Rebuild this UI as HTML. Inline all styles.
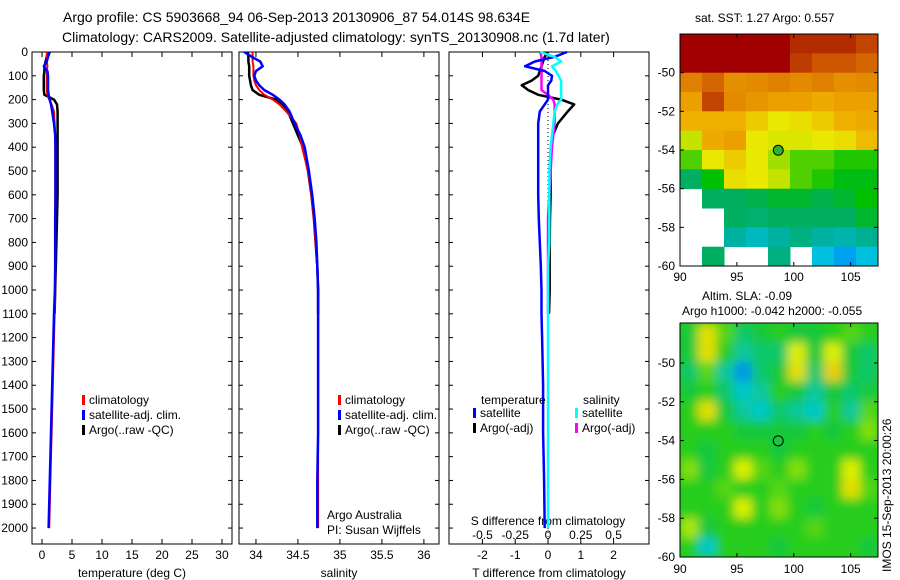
<!DOCTYPE html>
<html><head><meta charset="utf-8"><style>
body{margin:0;background:#fff;}
svg{display:block;font-family:"Liberation Sans",Arial,sans-serif;}
text{fill:#000;}
</style></head><body>
<svg id="fig" width="900" height="580" xmlns="http://www.w3.org/2000/svg">
<defs><filter id="blur" x="0" y="0" width="1" height="1"><feGaussianBlur stdDeviation="5"/></filter>
<clipPath id="slaclip"><rect x="680" y="323" width="198" height="234"/></clipPath></defs>
<text x="63" y="22" font-size="14">Argo profile: CS 5903668_94 06-Sep-2013 20130906_87 54.014S 98.634E</text>
<text x="62" y="42" font-size="14">Climatology: CARS2009. Satellite-adjusted climatology: synTS_20130908.nc (1.7d later)</text>
<text x="695" y="22" font-size="12">sat. SST: 1.27 Argo: 0.557</text>
<text x="702" y="300" font-size="12">Altim. SLA: -0.09</text>
<text x="682" y="315" font-size="12">Argo h1000: -0.042 h2000: -0.055</text>
<text transform="translate(891,572) rotate(-90)" font-size="12">IMOS 15-Sep-2013 20:00:26</text>
<g id="g"></g>
</svg>
<script>
// ---- data ----
const depths=[0,20,40,60,80,100,120,140,160,180,200,220,250,300,350,400,500,600,700,800,900,1000,1100,1200,1400,1600,1800,2000];
const tempClim=[0.8,0.8,0.8,0.9,0.8,0.8,0.8,0.8,0.8,0.9,1.2,1.6,2.0,2.1,2.2,2.2,2.2,2.2,2.2,2.2,2.2,2.2,2.1,2.0,1.8,1.6,1.4,1.2];
const tempSat=[1.3,1.0,0.8,0.3,0.9,1.0,1.0,1.0,1.0,1.1,1.3,1.5,1.7,2.0,2.2,2.25,2.25,2.25,2.2,2.2,2.2,2.15,2.0,1.9,1.7,1.5,1.3,1.1];
const tempArgo=[1.0,0.8,0.6,0.4,0.4,0.3,0.3,0.3,0.3,0.4,2.0,2.5,2.6,2.6,2.6,2.6,2.6,2.6,2.5,2.4,2.3,2.2,2.1];
const salClim=[33.96,33.96,33.96,33.97,33.97,33.97,33.98,34.0,34.04,34.1,34.2,34.28,34.36,34.48,34.52,34.55,34.62,34.66,34.69,34.71,34.73,34.74,34.74,34.74,34.74,34.74,34.74,34.74];
const salSat=[33.86,33.95,34.05,34.08,34.0,33.98,34.0,34.04,34.1,34.2,34.28,34.34,34.4,34.46,34.53,34.58,34.63,34.67,34.7,34.72,34.73,34.74,34.74,34.74,34.74,34.74,34.73,34.73];
const salArgo=[33.9,33.91,33.91,33.92,33.92,33.92,33.93,33.94,33.96,34.04,34.24,34.32,34.38,34.44,34.5,34.56,34.62,34.66,34.69,34.71,34.73,34.74,34.74];
const tDiffSat=[0.58,0.2,-0.4,-0.7,-0.1,0.12,0.1,0.0,0.0,0.0,0.0,-0.1,-0.25,-0.3,-0.3,-0.3,-0.3,-0.3,-0.28,-0.25,-0.22,-0.2,-0.2,-0.18,-0.15,-0.15,-0.12,-0.1];
const tDiffArgo=[0.0,-0.1,-0.15,-0.2,-0.25,-0.3,-0.5,-0.8,-0.6,-0.3,0.4,0.8,0.6,0.3,0.15,0.1,0.08,0.08,0.06,0.05,0.05,0.05,0.03];
const sDiffSat=[-0.06,0.05,0.1,0.03,0.06,0.08,0.1,0.1,0.1,0.1,0.1,0.07,0.05,0.04,0.03,0.02,0.01,0.01,0.01,0.01,0.0,0.0,0.0,0.0,0.0,0.0,0.0,0.0];
const sDiffArgo=[-0.06,-0.05,-0.05,-0.05,-0.05,-0.05,-0.05,-0.05,-0.05,0.0,0.04,0.05,0.05,0.05,0.04,0.03,0.02,0.01,0.0,0.0,0.0,0.0,0.0];
const depthTicks=[0,100,200,300,400,500,600,700,800,900,1000,1100,1200,1300,1400,1500,1600,1700,1800,1900,2000];
const tempTicks=[0,5,10,15,20,25,30];
const salTicks=[34,34.5,35,35.5,36];
const tDiffTicks=[-2,-1,0,1,2];
const sDiffTicks=[-0.5,-0.25,0,0.25,0.5];
const sstGrid=[
[1,1,1,1,1,0.95,0.95,0.95,0.92],
[1,1,1,1,1,0.93,0.9,0.9,0.88],
[0.85,0.88,0.8,0.82,0.85,0.82,0.85,0.8,0.82],
[0.75,0.92,0.82,0.78,0.75,0.75,0.72,0.75,0.75],
[0.7,0.7,0.7,0.65,0.6,0.62,0.65,0.7,0.72],
[0.55,0.72,0.75,0.6,0.58,0.58,0.6,0.62,0.68],
[0.45,0.6,0.65,0.6,0.5,0.45,0.45,0.42,0.42],
[0.3,0.4,0.62,0.6,0.55,0.45,0.42,0.38,0.38],
[null,0.3,0.3,0.32,0.35,0.35,0.32,0.35,0.4],
[null,null,0.3,0.28,0.3,0.3,0.3,0.3,0.35],
[null,null,0.2,0.15,0.2,0.25,0.2,0.18,0.22],
[null,0.3,null,null,0.25,null,0.1,0.05,0.1]];
const slaGrid=[
[0.45,0.75,0.55,0.4,0.45,0.5,0.45,0.45,0.5,0.55,0.5],
[0.45,0.75,0.5,0.35,0.4,0.4,0.7,0.45,0.7,0.45,0.4],
[0.4,0.55,0.35,0.15,0.4,0.45,0.75,0.4,0.8,0.45,0.4],
[0.45,0.5,0.4,0.3,0.35,0.5,0.45,0.35,0.45,0.4,0.45],
[0.5,0.75,0.45,0.35,0.3,0.4,0.35,0.3,0.5,0.35,0.55],
[0.5,0.5,0.5,0.45,0.45,0.45,0.45,0.5,0.45,0.5,0.6],
[0.5,0.45,0.5,0.5,0.5,0.45,0.5,0.5,0.5,0.5,0.5],
[0.6,0.45,0.5,0.7,0.55,0.5,0.6,0.5,0.5,0.7,0.5],
[0.5,0.5,0.55,0.5,0.5,0.55,0.5,0.5,0.5,0.75,0.55],
[0.5,0.5,0.5,0.7,0.5,0.6,0.5,0.45,0.5,0.5,0.5],
[0.65,0.45,0.5,0.5,0.5,0.5,0.5,0.55,0.5,0.5,0.5],
[0.5,0.3,0.5,0.5,0.5,0.45,0.5,0.5,0.5,0.5,0.45]];
// ---- helpers ----
const NS="http://www.w3.org/2000/svg";const G=document.getElementById('g');
function mk(tag,attrs,txt,parent){const e=document.createElementNS(NS,tag);for(const k in attrs)e.setAttribute(k,attrs[k]);if(txt!==undefined&&txt!==null)e.textContent=txt;(parent||G).appendChild(e);return e;}
const TOP=52,BOT=544,DMAX=2067;
const yD=d=>TOP+d/DMAX*(BOT-TOP);
function panel(x0,x1,v0,v1){return {x0,x1,xs:v=>x0+(v-v0)/(v1-v0)*(x1-x0)};}
const P1=panel(32,232,-1.67,31.67),P2=panel(239,439,33.798,36.18),P3=panel(449,649,-3.02,3.08);
const sx3=v=>P3.xs(v*4);
function box(P,nm){const r=mk('rect',{x:P.x0,y:TOP,width:P.x1-P.x0,height:BOT-TOP,fill:'none',stroke:'#000','stroke-width':1});

depthTicks.forEach(d=>{const y=yD(d);mk('line',{x1:P.x0,x2:P.x0+4,y1:y,y2:y,stroke:'#000'});mk('line',{x1:P.x1,x2:P.x1-4,y1:y,y2:y,stroke:'#000'});});}
function xt(P,ticks,fn,lbl,nm){ticks.forEach(t=>{const x=fn(t);mk('line',{x1:x,x2:x,y1:TOP,y2:TOP+5,stroke:'#000'});mk('line',{x1:x,x2:x,y1:BOT,y2:BOT-5,stroke:'#000'});
const e=mk('text',{x:x,y:BOT+15,'font-size':12,'text-anchor':'middle'},String(t));});
const l=mk('text',{x:(P.x0+P.x1)/2,y:BOT+33,'font-size':12,'text-anchor':'middle'},lbl);}
function line(P,fn,vals,col,w,nm){const pts=vals.map((v,i)=>fn(v).toFixed(1)+','+yD(depths[i]).toFixed(1)).join(' ');
const e=mk('polyline',{points:pts,fill:'none',stroke:col,'stroke-width':w,'stroke-linejoin':'round'});}
function leg(x,y,col,txt,nm){mk('rect',{x:x,y:y-9,width:3,height:10,fill:col});const e=mk('text',{x:x+7,y:y,'font-size':12},txt);}
// ---- panel 1 ----
box(P1,'temperature-panel');
depthTicks.forEach(d=>{const e=mk('text',{x:28,y:yD(d)+4,'font-size':12,'text-anchor':'end'},String(d));});
xt(P1,tempTicks,P1.xs,'temperature (deg C)','temperature');
line(P1,P1.xs,tempArgo,'#000',2.5,'temp-argo-line');
line(P1,P1.xs,tempClim,'#f00',2,'temp-climatology-line');
line(P1,P1.xs,tempSat,'#00f',2.5,'temp-satellite-line');
leg(82,404,'#f00','climatology','legend-climatology');leg(82,419,'#00f','satellite-adj. clim.','legend-satellite-adj');leg(82,434,'#000','Argo(..raw -QC)','legend-argo');
// ---- panel 2 ----
box(P2,'salinity-panel');
xt(P2,salTicks,P2.xs,'salinity','salinity');
line(P2,P2.xs,salArgo,'#000',2.5,'sal-argo-line');
line(P2,P2.xs,salClim,'#f00',2,'sal-climatology-line');
line(P2,P2.xs,salSat,'#00f',2.5,'sal-satellite-line');
leg(338,404,'#f00','climatology','legend2-climatology');leg(338,419,'#00f','satellite-adj. clim.','legend2-satellite-adj');leg(338,434,'#000','Argo(..raw -QC)','legend2-argo');
mk('text',{x:327,y:519,'font-size':12},'Argo Australia');mk('text',{x:327,y:534,'font-size':12},'PI: Susan Wijffels');
// ---- panel 3 ----
box(P3,'difference-panel');
xt(P3,tDiffTicks,P3.xs,'T difference from climatology','t-diff');
mk('line',{x1:P3.xs(0),x2:P3.xs(0),y1:TOP,y2:BOT,stroke:'#000','stroke-dasharray':'1,3'});
sDiffTicks.forEach(t=>{const e=mk('text',{x:sx3(t),y:539,'font-size':12,'text-anchor':'middle'},String(t));});
mk('text',{x:548,y:525,'font-size':12,'text-anchor':'middle'},'S difference from climatology');
line(P3,P3.xs,tDiffArgo,'#000',2.5,'t-diff-argo-line');
line(P3,sx3,sDiffArgo,'#f0f',2.5,'s-diff-argo-line');
line(P3,P3.xs,tDiffSat,'#00f',2.5,'t-diff-satellite-line');
line(P3,sx3,sDiffSat,'#0ff',2.5,'s-diff-satellite-line');
mk('text',{x:481,y:404,'font-size':12},'temperature');mk('text',{x:583,y:404,'font-size':12},'salinity');
leg(473,417,'#00f','satellite','legend3-t-satellite');leg(473,432,'#000','Argo(-adj)','legend3-t-argo');
leg(575,417,'#0ff','satellite','legend3-s-satellite');leg(575,432,'#f0f','Argo(-adj)','legend3-s-argo');
// ---- maps ----
function ramp(st,v){for(let i=1;i<st.length;i++)if(v<=st[i][0]){const a=st[i-1],b=st[i],f=(v-a[0])/(b[0]-a[0]);return 'rgb('+a[1].map((c,k)=>Math.round(c+(b[1][k]-c)*f)).join(',')+')';}const l=st[st.length-1][1];return 'rgb('+l.join(',')+')';}
const sstStops=[[0,[0,128,255]],[0.1,[0,192,224]],[0.2,[0,176,160]],[0.3,[0,176,96]],[0.4,[0,192,0]],[0.5,[160,224,0]],[0.6,[232,232,0]],[0.7,[240,176,0]],[0.85,[224,128,0]],[1,[160,0,0]]];
const slaStops=[[0,[0,96,224]],[0.15,[0,150,230]],[0.3,[0,200,200]],[0.45,[20,200,60]],[0.5,[40,205,30]],[0.7,[220,240,0]],[0.85,[240,190,0]],[1,[240,140,0]]];
function map(grid,stops,x0,y0,x1,y1,latTop,nm,smooth){const R=grid.length,C=grid[0].length,cw=(x1-x0)/C,ch=(y1-y0)/R;
mk('rect',{x:x0,y:y0,width:x1-x0,height:y1-y0,fill:smooth?ramp(stops,0.5):'#fff'});
let grp=G;if(smooth){grp=mk('g',{'clip-path':'url(#slaclip)'});grp=mk('g',{filter:'url(#blur)'},null,grp);}
grid.forEach((row,r)=>row.forEach((v,c)=>{if(v===null)return;const e=mk('rect',{x:(x0+c*cw).toFixed(1),y:(y0+r*ch).toFixed(1),width:(cw+0.5).toFixed(1),height:(ch+0.5).toFixed(1),fill:ramp(stops,v)},null,grp);

}));
const b=mk('rect',{x:x0,y:y0,width:x1-x0,height:y1-y0,fill:'none',stroke:'#000'});
const ly=l=>y0+(latTop-l)/(latTop+60)*(y1-y0),lx=l=>x0+(l-90)/17.4*(x1-x0);
[-50,-52,-54,-56,-58,-60].forEach(l=>{const y=ly(l);mk('line',{x1:x0,x2:x0+4,y1:y,y2:y,stroke:'#000'});mk('line',{x1:x1,x2:x1-4,y1:y,y2:y,stroke:'#000'});mk('text',{x:x0-5,y:y+4,'font-size':12,'text-anchor':'end'},String(l));});
[90,95,100,105].forEach(l=>{const x=lx(l);mk('line',{x1:x,x2:x,y1:y1,y2:y1-4,stroke:'#000'});mk('line',{x1:x,x2:x,y1:y0,y2:y0+4,stroke:'#000'});});
return {lx,ly};}
const m1=map(sstGrid,sstStops,680,34,878,266,-48,'sst-map',false);
mk('circle',{cx:m1.lx(98.634),cy:m1.ly(-54.014),r:5,fill:'#30b030',stroke:'#000'});
[90,95,100,105].forEach(l=>mk('text',{x:m1.lx(l),y:281,'font-size':12,'text-anchor':'middle'},String(l)));
const m2=map(slaGrid,slaStops,680,323,878,557,-47.94,'sla-map',true);
mk('circle',{cx:m2.lx(98.634),cy:m2.ly(-54.014),r:5,fill:'none',stroke:'#000'});
[90,95,100,105].forEach(l=>mk('text',{x:m2.lx(l),y:573,'font-size':12,'text-anchor':'middle'},String(l)));
</script>
</body></html>
